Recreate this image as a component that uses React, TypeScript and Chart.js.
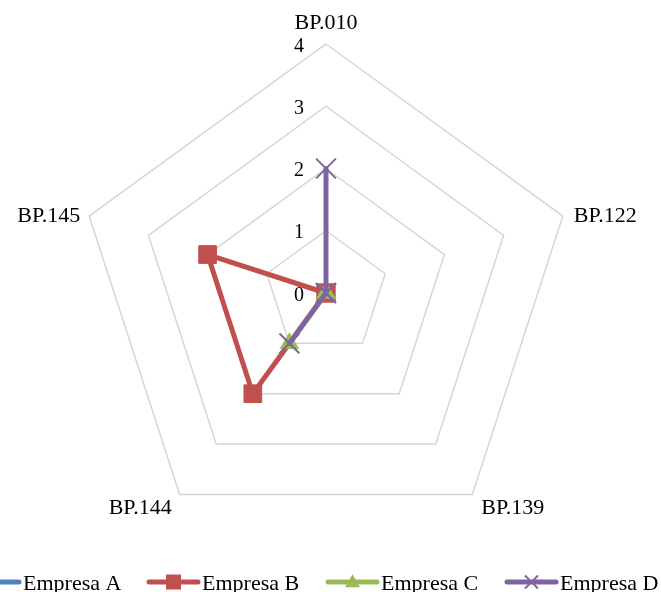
import React, { useEffect, useRef } from 'react';
import { Chart, registerables } from 'chart.js';

Chart.register(...registerables);

const categories = ['BP.010', 'BP.122', 'BP.139', 'BP.144', 'BP.145'];
const empresaA = [0, 0, 0, 0, 0];
const empresaB = [0, 0, 0, 2, 2];
const empresaC = [0, 0, 0, 1, 0];
const empresaD = [2, 0, 0, 1, 0];
const tickValues = [0, 1, 2, 3, 4];
const seriesNames = ['Empresa A', 'Empresa B', 'Empresa C', 'Empresa D'];
const seriesColors = ['#4F81BD', '#C0504D', '#9BBB59', '#8064A2'];
const seriesMarkers = ['rectRot', 'rect', 'triangle', 'crossRot'];

function drawMarker(ctx: CanvasRenderingContext2D, kind: string, x: number, y: number, size: number, color: string) {
  ctx.save();
  ctx.fillStyle = color;
  ctx.strokeStyle = color;
  ctx.beginPath();
  if (kind === 'rect') {
    ctx.rect(x - size / 2, y - size / 2, size, size);
    ctx.fill();
  } else if (kind === 'triangle') {
    const h = size * 0.87;
    ctx.moveTo(x, y - h * 0.6);
    ctx.lineTo(x + size / 2, y + h * 0.4);
    ctx.lineTo(x - size / 2, y + h * 0.4);
    ctx.closePath();
    ctx.fill();
  } else if (kind === 'crossRot') {
    const d = size / 2;
    ctx.lineWidth = 2;
    ctx.moveTo(x - d, y - d);
    ctx.lineTo(x + d, y + d);
    ctx.moveTo(x + d, y - d);
    ctx.lineTo(x - d, y + d);
    ctx.stroke();
  } else if (kind === 'rectRot') {
    const d = size / 2;
    ctx.moveTo(x, y - d);
    ctx.lineTo(x + d, y);
    ctx.lineTo(x, y + d);
    ctx.lineTo(x - d, y);
    ctx.closePath();
    ctx.fill();
  }
  ctx.restore();
}

const overlayPlugin = {
  id: 'overlay',
  afterDraw(chart: any) {
    const ctx: CanvasRenderingContext2D = chart.ctx;
    const s = chart.scales.r;
    const R = s.drawingArea;
    ctx.save();
    ctx.fillStyle = '#000';
    // tick labels
    ctx.font = '20px "Liberation Serif"';
    ctx.textAlign = 'center';
    ctx.textBaseline = 'alphabetic';
    tickValues.forEach((v) => {
      const r = s.getDistanceFromCenterForValue(v);
      ctx.fillText(String(v), s.xCenter - 27, s.yCenter - r + 7.5);
    });
    // point labels
    ctx.font = '22px "Liberation Serif"';
    const specs: { dx: number; dy: number; align: CanvasTextAlign }[] = [
      { dx: 0, dy: -15.5, align: 'center' },
      { dx: 11, dy: 6, align: 'left' },
      { dx: 9, dy: 19.5, align: 'left' },
      { dx: -8, dy: 19.5, align: 'right' },
      { dx: -9, dy: 6, align: 'right' },
    ];
    categories.forEach((c, i) => {
      const p = s.getPointPosition(i, R);
      const sp = specs[i];
      ctx.textAlign = sp.align;
      ctx.fillText(c, p.x + sp.dx, p.y + sp.dy);
    });
    // legend
    const startX = chart.width / 2 - 362.5;
    const step = 179;
    const ly = 582;
    ctx.font = '22px "Liberation Serif"';
    ctx.textAlign = 'left';
    ctx.textBaseline = 'alphabetic';
    seriesNames.forEach((name, i) => {
      const x0 = startX + i * step;
      ctx.save();
      ctx.strokeStyle = seriesColors[i];
      ctx.lineWidth = 5;
      ctx.lineCap = 'round';
      ctx.beginPath();
      ctx.moveTo(x0 + 2, ly);
      ctx.lineTo(x0 + 51, ly);
      ctx.stroke();
      ctx.restore();
      const msize = i === 1 ? 15 : i === 2 ? 15 : i === 3 ? 13 : 10;
      drawMarker(ctx, seriesMarkers[i], x0 + 26.5, ly, msize, seriesColors[i]);
      ctx.fillStyle = '#000';
      ctx.fillText(name, x0 + 55, ly + 7.5);
    });
    ctx.restore();
  },
};

export default function App() {
  const canvasRef = useRef<HTMLCanvasElement | null>(null);

  useEffect(() => {
    if (!canvasRef.current) return;
    const series = [empresaA, empresaB, empresaC, empresaD];
    const radii = [6, 12.5, 10.5, 14];
    const chart = new Chart(canvasRef.current, {
      type: 'radar',
      data: {
        labels: categories,
        datasets: series.map((vals, i) => ({
          label: seriesNames[i],
          data: vals,
          borderColor: seriesColors[i],
          backgroundColor: seriesColors[i],
          pointBackgroundColor: seriesColors[i],
          pointBorderColor: seriesColors[i],
          pointBorderWidth: i === 3 ? 2 : 1,
          pointStyle: seriesMarkers[i] as any,
          pointRadius: radii[i],
          pointHoverRadius: radii[i],
          borderWidth: 5,
          borderJoinStyle: 'round' as const,
          borderCapStyle: 'round' as const,
          fill: false,
          tension: 0,
          order: 4 - i,
        })),
      },
      options: {
        responsive: false,
        animation: false,
        events: [],
        layout: { padding: { left: 77, right: 86, top: 44, bottom: 50 } },
        plugins: {
          legend: { display: false },
          tooltip: { enabled: false },
          title: { display: false },
        },
        scales: {
          r: {
            min: 0,
            max: 4,
            ticks: { display: false, stepSize: 1, showLabelBackdrop: false },
            pointLabels: { display: false },
            angleLines: { display: false },
            grid: { color: '#d6d6d6', lineWidth: 1.5 },
          },
        },
      },
      plugins: [overlayPlugin],
    });
    return () => chart.destroy();
  }, []);

  return (
    <div style={{ position: 'absolute', left: 0, top: 0, width: 661, height: 592, background: '#fff' }}>
      <canvas ref={canvasRef} width={661} height={592} style={{ display: 'block' }} />
    </div>
  );
}
